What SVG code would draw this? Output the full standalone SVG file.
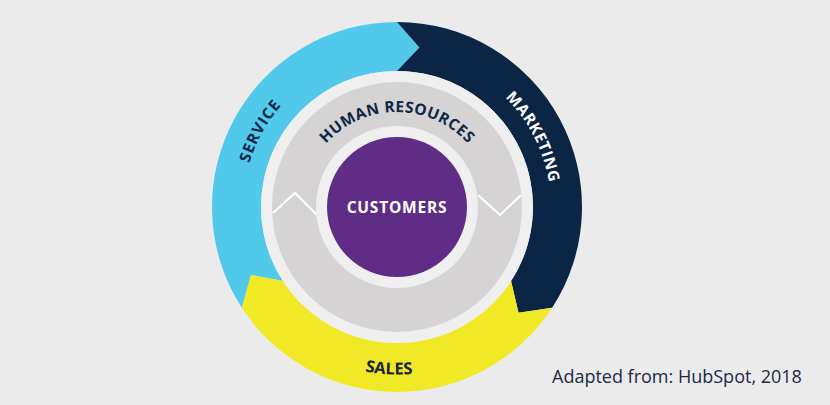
<svg xmlns="http://www.w3.org/2000/svg" width="830" height="405" viewBox="0 0 830 405">
  <defs>
    <style>
      .lbl { font-family: "Open Sans", "Liberation Sans", sans-serif; font-weight: 700; }
      .zig { fill: none; stroke: #ffffff; stroke-width: 2; stroke-linejoin: miter; }
    </style>
    <path id="arcService" d="M 253.23 262.19 A 154 154 0 0 1 367.62 55.83"/>
    <path id="arcMarketing" d="M 431.12 56.83 A 154 154 0 0 1 538.97 266.68"/>
    <path id="arcHR" d="M 303.44 190.5 A 95 95 0 0 1 490.56 190.5"/>
    <path id="arcSales" d="M 248.03 283.56 A 167.5 167.5 0 0 0 537.80 297.73"/>
  </defs>
  <rect width="830" height="405" fill="#ebebeb"/>

  <g id="service">
    <path d="M 241.84 307.75 A 185 185 0 0 1 397 22 L 419.41 47.57 L 397 71 A 136 136 0 0 0 282.94 281.07 L 251.09 275.04 Z" fill="#50c9eb"/>
    <text class="lbl" font-size="15.5" fill="#0f2746" letter-spacing="0.8"><textPath href="#arcService" startOffset="50%" text-anchor="middle">SERVICE</textPath></text>
  </g>

  <g id="marketing">
    <path d="M 397 22 A 185 185 0 0 1 552.16 307.75 L 518.5 312.63 L 511.06 281.07 A 136 136 0 0 0 397 71 L 419.41 47.57 Z" fill="#0b2545"/>
    <text class="lbl" font-size="15.5" fill="#ffffff" letter-spacing="0.6"><textPath href="#arcMarketing" startOffset="50%" text-anchor="middle">MARKETING</textPath></text>
  </g>

  <g id="sales">
    <path d="M 552.16 307.75 A 185 185 0 0 1 241.84 307.75 L 251.09 275.04 L 282.94 281.07 A 136 136 0 0 0 511.06 281.07 L 518.5 312.63 Z" fill="#f2e926"/>
    <text class="lbl" font-size="16.5" fill="#1a2238"><textPath href="#arcSales" startOffset="50%" text-anchor="middle">SALES</textPath></text>
  </g>

  <g id="human-resources">
    <circle cx="397" cy="207" r="136" fill="#efefef"/>
    <circle cx="397" cy="207" r="125" fill="#d6d3d4"/>
    <polyline class="zig" points="273,213 295,193 317,215"/>
    <polyline class="zig" points="478,195 500,215 521,195"/>
    <circle cx="397" cy="207" r="81" fill="#efefef"/>
    <text class="lbl" font-size="15.5" fill="#0f2746" letter-spacing="0.4"><textPath href="#arcHR" startOffset="50%" text-anchor="middle">HUMAN RESOURCES</textPath></text>
  </g>

  <g id="customers">
    <circle cx="397" cy="207" r="70" fill="#602d86"/>
    <text class="lbl" x="397" y="213" font-size="15.5" fill="#ffffff" text-anchor="middle" letter-spacing="0.8">CUSTOMERS</text>
  </g>

  <g id="connectors"></g>

  <text x="552" y="383" font-family="Open Sans, Liberation Sans, sans-serif" font-size="18" fill="#1c2a44">Adapted from: HubSpot, 2018</text>
</svg>
